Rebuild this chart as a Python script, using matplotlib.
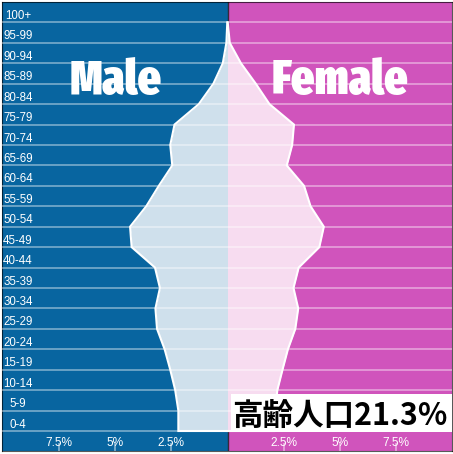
import numpy as np
import matplotlib
matplotlib.use("Agg")
import matplotlib.pyplot as plt
from matplotlib.patches import Rectangle
from matplotlib import font_manager as fm

# ---- data (percent of total population, per 5-year age group) ----
age_groups = ["0-4", "5-9", "10-14", "15-19", "20-24", "25-29", "30-34",
              "35-39", "40-44", "45-49", "50-54", "55-59", "60-64", "65-69",
              "70-74", "75-79", "80-84", "85-89", "90-94", "95-99", "100+"]
male = [2.19, 2.19, 2.33, 2.55, 2.80, 3.14, 3.21, 3.01, 3.23, 4.27, 4.34,
        3.62, 3.06, 2.46, 2.55, 2.36, 1.28, 0.63, 0.21, 0.05, 0.01]
female = [2.08, 2.12, 2.22, 2.45, 2.69, 3.02, 3.15, 2.94, 3.17, 4.09, 4.29,
          3.70, 3.41, 2.64, 2.88, 2.96, 1.87, 1.26, 0.60, 0.10, 0.01]
tick_vals = [-7.5, -5, -2.5, 2.5, 5, 7.5]
tick_labels = ["7.5%", "5%", "2.5%", "2.5%", "5%", "7.5%"]
side_labels = ["Male", "Female"]
note_text = "高齢人口21.3%"

# ---- styling ----
BLUE = "#0865a0"
PINK = "#d054bc"
LIGHT_BLUE = "#cfe0ec"
LIGHT_PINK = "#f7dcf0"
GRID = (1, 1, 1, 0.5)


def condensed_bold_font():
    best = None
    for f in fm.fontManager.ttflist:
        nm = f.name.lower()
        fn = f.fname.lower()
        narrow = ("narrow" in nm or "condensed" in nm or "narrow" in fn
                  or "condensed" in fn or str(f.stretch) in
                  ("condensed", "semi-condensed", "extra-condensed",
                   "ultra-condensed", "400", "300", "200", "100"))
        if not narrow:
            continue
        w = f.weight
        try:
            w = int(w)
        except (TypeError, ValueError):
            w = {"bold": 700, "heavy": 800, "black": 900}.get(str(w), 400)
        score = w + (200 if ("extra" in fn or "ultra" in fn) else 0)
        if best is None or score > best[0]:
            best = (score, f.fname)
    if best is None:
        return fm.FontProperties(family="DejaVu Sans", weight="bold")
    return fm.FontProperties(fname=best[1])


W, H = 453, 454
fig = plt.figure(figsize=(W / 100, H / 100), dpi=100, facecolor="white")
ax = fig.add_axes([2 / W, 3 / H, 450 / W, 449 / H])

XMIN, XMAX = -10.045, 10.0
YMIN, YMAX = -0.979, 21
ax.set_xlim(XMIN, XMAX)
ax.set_ylim(YMIN, YMAX)

ax.axvspan(XMIN, 0, color=BLUE, lw=0, zorder=0)
ax.axvspan(0, XMAX, color=PINK, lw=0, zorder=0)
ax.axvline(0, color=(0.1, 0.1, 0.1, 0.8), lw=1.0, zorder=1)

m = np.array(male)
f = np.array(female)
yk = np.arange(len(age_groups))

ax.fill_betweenx(yk, -m, 0, color=LIGHT_BLUE, lw=0, zorder=2)
ax.fill_betweenx(yk, 0, f, color=LIGHT_PINK, lw=0, zorder=2)

# grid lines at band boundaries
ax.hlines(yk, XMIN, XMAX, colors=[GRID], lw=1.1, zorder=3)

# white outlines
ax.plot(np.concatenate([[0], -m]), np.concatenate([[0], yk]), color="white",
        lw=1.5, zorder=4, solid_joinstyle="miter")
ax.plot(np.concatenate([[0], f]), np.concatenate([[0], yk]), color="white",
        lw=1.5, zorder=4, solid_joinstyle="miter")

# age labels
for k, lab in enumerate(age_groups):
    ax.text(-9.33, k + 0.17, lab, ha="center", va="baseline", color="white",
            fontsize=8.3, family=["Liberation Sans", "DejaVu Sans"], zorder=5)

# Male / Female titles (size fitted to the reference width)
fp = condensed_bold_font()
titles = []
for xpos, lab in zip([-5, 5], side_labels):
    t = ax.text(xpos, 16.5, lab, ha="center", va="baseline", color="white",
                fontproperties=fp, fontsize=36, zorder=5)
    titles.append(t)
fig.canvas.draw()
r = fig.canvas.get_renderer()
w_tot = sum(t.get_window_extent(r).width for t in titles)
size = 1.1 * 36 * (82 + 126) / w_tot
size = min(size, 48)
for t in titles:
    t.set_fontsize(size)

# x ticks (inside) and labels
ax.set_xticks(tick_vals)
ax.set_yticks([])
ax.tick_params(axis="x", direction="in", length=5.8, width=1.1,
               color=(1, 1, 1, 0.55), labelbottom=False)
for v, lab in zip(tick_vals, tick_labels):
    ax.text(v, -0.73, lab, ha="center", va="baseline", color="white",
            fontsize=8.6, family=["Liberation Sans", "DejaVu Sans"], zorder=5)

for s in ax.spines.values():
    s.set_color((0, 0, 0, 0.65))
    s.set_linewidth(0.8)

# annotation box
ax.add_patch(Rectangle((0.14, -0.05), XMAX - 0.14, 1.885, facecolor="white",
                       edgecolor="none", zorder=6))
ax.text(0.2, 0.27, note_text, ha="left", va="baseline", color="black",
        fontsize=22, fontweight="bold",
        family=["Noto Sans CJK JP", "DejaVu Sans"], zorder=7)

fig.savefig("out.png", dpi=100, facecolor="white")
